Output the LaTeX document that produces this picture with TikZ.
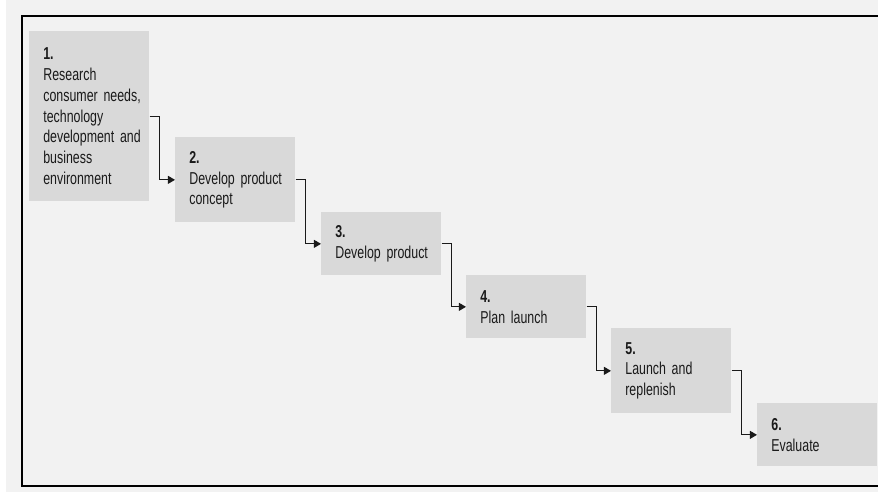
\documentclass[tikz,border=0pt]{standalone}
\usepackage{fontspec}
\setmainfont[FakeStretch=0.72]{Liberation Sans}
\usetikzlibrary{arrows.meta}
\hyphenpenalty=10000
\hfuzz=20pt

\definecolor{pagegray}{HTML}{F2F2F2}
\definecolor{boxgray}{HTML}{D9D9D9}
\definecolor{inkgray}{HTML}{1A1A1A}

\tikzset{
  stagebox/.style={fill=boxgray, anchor=north west, text=inkgray,
    text width=1.84cm, inner xsep=0.28cm, inner ysep=0pt,
    minimum height=#1, align=left,
    font=\fontsize{9.8}{11.8}\selectfont},
  flow/.style={-{Triangle[length=4pt,width=4.5pt]}, draw=inkgray, line width=0.6pt}
}

\begin{document}
\begin{tikzpicture}[x=0.02cm,y=-0.02cm]
  \useasboundingbox (0,0) rectangle (878,494);
  \fill[white] (0,0) rectangle (878,494);
  \fill[pagegray] (6,0) rectangle (878,492);
  \draw[line width=1.2pt] (878,16) -- (22,16) -- (22,486) -- (878,486);

  \node[stagebox=3.4cm] (p1) at (29,31) {\textbf{1.}\\Research\\consumer~needs,\\technology\\development~and\\business\\environment};
  \node[stagebox=1.7cm] (p2) at (175,137) {\textbf{2.}\\Develop~product\\concept};
  \node[stagebox=1.26cm] (p3) at (321,212) {\textbf{3.}\\Develop~product};
  \node[stagebox=1.26cm] (p4) at (466,275) {\textbf{4.}\\Plan~launch};
  \node[stagebox=1.7cm] (p5) at (611,328) {\textbf{5.}\\Launch~and\\replenish};
  \node[stagebox=1.26cm] (p6) at (757,403) {\textbf{6.}\\Evaluate};

  \foreach \a/\b in {p1/p2,p2/p3,p3/p4,p4/p5,p5/p6} {
    \draw[flow] (\a.east) -- ++(10,0) |- (\b.west);
  }
\end{tikzpicture}
\end{document}
